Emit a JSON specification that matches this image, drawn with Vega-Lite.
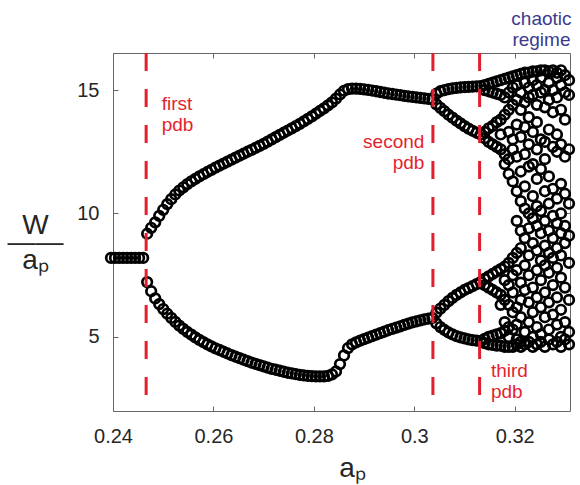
{
"$schema": "https://vega.github.io/schema/vega-lite/v6.json",
"width": 457, "height": 358,
"autosize": "none",
"padding": {"left": 113, "top": 53, "right": 10, "bottom": 74},
"background": "white",
"config": {"view": {"stroke": null}, "font": "Liberation Sans"},
"datasets": {
"pts": [
{"a":0.2396,"w":8.2},{"a":0.2404,"w":8.2},{"a":0.2412,"w":8.2},{"a":0.2420,"w":8.2},{"a":0.2428,"w":8.2},{"a":0.2436,"w":8.2},{"a":0.2444,"w":8.2},{"a":0.2452,"w":8.2},{"a":0.2460,"w":8.2},
{"a":0.2468,"w":9.18},{"a":0.2468,"w":7.22},{"a":0.2476,"w":9.42},{"a":0.2476,"w":6.85},{"a":0.2484,"w":9.64},{"a":0.2484,"w":6.56},{"a":0.2492,"w":9.90},{"a":0.2492,"w":6.33},
{"a":0.2500,"w":10.15},{"a":0.2500,"w":6.13},{"a":0.2508,"w":10.38},{"a":0.2508,"w":5.94},{"a":0.2516,"w":10.58},{"a":0.2516,"w":5.77},{"a":0.2524,"w":10.77},{"a":0.2524,"w":5.61},
{"a":0.2532,"w":10.93},{"a":0.2532,"w":5.46},{"a":0.2540,"w":11.06},{"a":0.2540,"w":5.33},{"a":0.2548,"w":11.19},{"a":0.2548,"w":5.20},{"a":0.2556,"w":11.30},{"a":0.2556,"w":5.09},
{"a":0.2564,"w":11.40},{"a":0.2564,"w":4.98},{"a":0.2572,"w":11.50},{"a":0.2572,"w":4.88},{"a":0.2580,"w":11.59},{"a":0.2580,"w":4.79},{"a":0.2588,"w":11.68},{"a":0.2588,"w":4.70},
{"a":0.2596,"w":11.77},{"a":0.2596,"w":4.62},{"a":0.2604,"w":11.86},{"a":0.2604,"w":4.54},{"a":0.2612,"w":11.94},{"a":0.2612,"w":4.47},{"a":0.2620,"w":12.02},{"a":0.2620,"w":4.40},
{"a":0.2628,"w":12.10},{"a":0.2628,"w":4.33},{"a":0.2636,"w":12.18},{"a":0.2636,"w":4.26},{"a":0.2644,"w":12.26},{"a":0.2644,"w":4.20},{"a":0.2652,"w":12.34},{"a":0.2652,"w":4.14},
{"a":0.2660,"w":12.42},{"a":0.2660,"w":4.08},{"a":0.2668,"w":12.50},{"a":0.2668,"w":4.02},{"a":0.2676,"w":12.58},{"a":0.2676,"w":3.96},{"a":0.2684,"w":12.66},{"a":0.2684,"w":3.91},
{"a":0.2692,"w":12.74},{"a":0.2692,"w":3.86},{"a":0.2700,"w":12.82},{"a":0.2700,"w":3.81},{"a":0.2708,"w":12.91},{"a":0.2708,"w":3.76},{"a":0.2716,"w":13.00},{"a":0.2716,"w":3.71},
{"a":0.2724,"w":13.09},{"a":0.2724,"w":3.67},{"a":0.2732,"w":13.18},{"a":0.2732,"w":3.63},{"a":0.2740,"w":13.27},{"a":0.2740,"w":3.59},{"a":0.2748,"w":13.36},{"a":0.2748,"w":3.55},
{"a":0.2756,"w":13.45},{"a":0.2756,"w":3.52},{"a":0.2764,"w":13.54},{"a":0.2764,"w":3.49},{"a":0.2772,"w":13.63},{"a":0.2772,"w":3.46},{"a":0.2780,"w":13.73},{"a":0.2780,"w":3.44},
{"a":0.2788,"w":13.83},{"a":0.2788,"w":3.42},{"a":0.2796,"w":13.93},{"a":0.2796,"w":3.41},{"a":0.2804,"w":14.04},{"a":0.2804,"w":3.40},{"a":0.2812,"w":14.15},{"a":0.2812,"w":3.40},
{"a":0.2820,"w":14.26},{"a":0.2820,"w":3.40},{"a":0.2828,"w":14.38},{"a":0.2828,"w":3.42},{"a":0.2836,"w":14.50},{"a":0.2836,"w":3.48},{"a":0.2844,"w":14.65},{"a":0.2844,"w":3.60},
{"a":0.2852,"w":14.82},{"a":0.2852,"w":3.90},{"a":0.2860,"w":14.97},{"a":0.2860,"w":4.25},{"a":0.2868,"w":15.04},{"a":0.2868,"w":4.55},{"a":0.2876,"w":15.06},{"a":0.2876,"w":4.70},
{"a":0.2884,"w":15.06},{"a":0.2884,"w":4.78},{"a":0.2892,"w":15.05},{"a":0.2892,"w":4.85},{"a":0.2900,"w":15.03},{"a":0.2900,"w":4.91},{"a":0.2908,"w":15.01},{"a":0.2908,"w":4.97},
{"a":0.2916,"w":14.98},{"a":0.2916,"w":5.03},{"a":0.2924,"w":14.95},{"a":0.2924,"w":5.09},{"a":0.2932,"w":14.92},{"a":0.2932,"w":5.15},{"a":0.2940,"w":14.89},{"a":0.2940,"w":5.21},
{"a":0.2948,"w":14.86},{"a":0.2948,"w":5.27},{"a":0.2956,"w":14.84},{"a":0.2956,"w":5.33},{"a":0.2964,"w":14.81},{"a":0.2964,"w":5.38},{"a":0.2972,"w":14.79},{"a":0.2972,"w":5.43},
{"a":0.2980,"w":14.76},{"a":0.2980,"w":5.49},{"a":0.2988,"w":14.74},{"a":0.2988,"w":5.54},{"a":0.2996,"w":14.72},{"a":0.2996,"w":5.59},{"a":0.3004,"w":14.70},{"a":0.3004,"w":5.63},
{"a":0.3012,"w":14.68},{"a":0.3012,"w":5.67},{"a":0.3020,"w":14.66},{"a":0.3020,"w":5.71},{"a":0.3028,"w":14.64},{"a":0.3028,"w":5.74},{"a":0.3036,"w":14.62},{"a":0.3036,"w":5.77},
{"a":0.3044,"w":14.85},{"a":0.3044,"w":14.42},{"a":0.3044,"w":5.98},{"a":0.3044,"w":5.55},
{"a":0.3052,"w":14.95},{"a":0.3052,"w":14.28},{"a":0.3052,"w":6.15},{"a":0.3052,"w":5.40},
{"a":0.3060,"w":15.00},{"a":0.3060,"w":14.14},{"a":0.3060,"w":6.30},{"a":0.3060,"w":5.28},
{"a":0.3068,"w":15.04},{"a":0.3068,"w":14.00},{"a":0.3068,"w":6.45},{"a":0.3068,"w":5.18},
{"a":0.3076,"w":15.07},{"a":0.3076,"w":13.88},{"a":0.3076,"w":6.58},{"a":0.3076,"w":5.10},
{"a":0.3084,"w":15.09},{"a":0.3084,"w":13.76},{"a":0.3084,"w":6.70},{"a":0.3084,"w":5.03},
{"a":0.3092,"w":15.11},{"a":0.3092,"w":13.65},{"a":0.3092,"w":6.80},{"a":0.3092,"w":4.98},
{"a":0.3100,"w":15.12},{"a":0.3100,"w":13.54},{"a":0.3100,"w":6.90},{"a":0.3100,"w":4.94},
{"a":0.3108,"w":15.13},{"a":0.3108,"w":13.44},{"a":0.3108,"w":6.98},{"a":0.3108,"w":4.90},
{"a":0.3116,"w":15.14},{"a":0.3116,"w":13.35},{"a":0.3116,"w":7.06},{"a":0.3116,"w":4.87},
{"a":0.3124,"w":15.15},{"a":0.3124,"w":13.27},{"a":0.3124,"w":7.14},{"a":0.3124,"w":4.85},
{"a":0.3132,"w":15.16},{"a":0.3132,"w":13.20},{"a":0.3132,"w":7.22},{"a":0.3132,"w":4.83},
{"a":0.3140,"w":15.2},{"a":0.3140,"w":15.0},{"a":0.3140,"w":13.3},{"a":0.3140,"w":13.05},{"a":0.3140,"w":7.35},{"a":0.3140,"w":7.1},{"a":0.3140,"w":4.92},{"a":0.3140,"w":4.75},
{"a":0.3148,"w":15.25},{"a":0.3148,"w":14.95},{"a":0.3148,"w":13.45},{"a":0.3148,"w":12.9},{"a":0.3148,"w":7.45},{"a":0.3148,"w":7.0},{"a":0.3148,"w":5.0},{"a":0.3148,"w":4.7},
{"a":0.3156,"w":15.3},{"a":0.3156,"w":14.9},{"a":0.3156,"w":13.55},{"a":0.3156,"w":12.8},{"a":0.3156,"w":7.55},{"a":0.3156,"w":6.9},{"a":0.3156,"w":5.05},{"a":0.3156,"w":4.68},
{"a":0.3164,"w":15.35},{"a":0.3164,"w":14.85},{"a":0.3164,"w":13.7},{"a":0.3164,"w":12.7},{"a":0.3164,"w":7.65},{"a":0.3164,"w":6.8},{"a":0.3164,"w":5.1},{"a":0.3164,"w":4.65},
{"a":0.3172,"w":15.4},{"a":0.3172,"w":14.8},{"a":0.3172,"w":13.8},{"a":0.3172,"w":13.2},{"a":0.3172,"w":12.6},{"a":0.3172,"w":7.75},{"a":0.3172,"w":6.7},{"a":0.3172,"w":6.3},{"a":0.3172,"w":5.15},{"a":0.3172,"w":4.65},
{"a":0.3180,"w":15.45},{"a":0.3180,"w":14.7},{"a":0.3180,"w":14.0},{"a":0.3180,"w":12.4},{"a":0.3180,"w":12.0},{"a":0.3180,"w":7.85},{"a":0.3180,"w":7.3},{"a":0.3180,"w":6.5},{"a":0.3180,"w":5.6},{"a":0.3180,"w":5.25},{"a":0.3180,"w":4.6},
{"a":0.3188,"w":15.5},{"a":0.3188,"w":14.9},{"a":0.3188,"w":14.2},{"a":0.3188,"w":13.3},{"a":0.3188,"w":12.2},{"a":0.3188,"w":11.6},{"a":0.3188,"w":8.0},{"a":0.3188,"w":7.1},{"a":0.3188,"w":6.3},{"a":0.3188,"w":5.4},{"a":0.3188,"w":5.0},{"a":0.3188,"w":4.6},
{"a":0.3196,"w":15.55},{"a":0.3196,"w":15.1},{"a":0.3196,"w":14.4},{"a":0.3196,"w":13.0},{"a":0.3196,"w":12.6},{"a":0.3196,"w":11.3},{"a":0.3196,"w":8.2},{"a":0.3196,"w":7.5},{"a":0.3196,"w":6.8},{"a":0.3196,"w":6.0},{"a":0.3196,"w":5.3},{"a":0.3196,"w":4.6},
{"a":0.3204,"w":15.6},{"a":0.3204,"w":15.2},{"a":0.3204,"w":14.6},{"a":0.3204,"w":13.6},{"a":0.3204,"w":12.3},{"a":0.3204,"w":10.9},{"a":0.3204,"w":9.7},{"a":0.3204,"w":8.4},{"a":0.3204,"w":7.7},{"a":0.3204,"w":6.2},{"a":0.3204,"w":5.5},{"a":0.3204,"w":4.9},{"a":0.3204,"w":4.7},
{"a":0.3212,"w":15.65},{"a":0.3212,"w":14.9},{"a":0.3212,"w":14.2},{"a":0.3212,"w":13.1},{"a":0.3212,"w":11.7},{"a":0.3212,"w":10.5},{"a":0.3212,"w":9.3},{"a":0.3212,"w":8.6},{"a":0.3212,"w":7.2},{"a":0.3212,"w":6.5},{"a":0.3212,"w":5.8},{"a":0.3212,"w":4.8},{"a":0.3212,"w":4.6},
{"a":0.3220,"w":15.7},{"a":0.3220,"w":15.3},{"a":0.3220,"w":14.5},{"a":0.3220,"w":13.5},{"a":0.3220,"w":12.4},{"a":0.3220,"w":11.1},{"a":0.3220,"w":10.2},{"a":0.3220,"w":9.0},{"a":0.3220,"w":7.9},{"a":0.3220,"w":6.9},{"a":0.3220,"w":5.2},{"a":0.3220,"w":4.7},
{"a":0.3228,"w":15.7},{"a":0.3228,"w":15.1},{"a":0.3228,"w":14.7},{"a":0.3228,"w":13.9},{"a":0.3228,"w":12.8},{"a":0.3228,"w":11.9},{"a":0.3228,"w":10.0},{"a":0.3228,"w":9.4},{"a":0.3228,"w":8.3},{"a":0.3228,"w":7.5},{"a":0.3228,"w":6.4},{"a":0.3228,"w":5.6},{"a":0.3228,"w":4.8},
{"a":0.3236,"w":15.75},{"a":0.3236,"w":15.4},{"a":0.3236,"w":14.8},{"a":0.3236,"w":13.3},{"a":0.3236,"w":12.0},{"a":0.3236,"w":10.7},{"a":0.3236,"w":9.8},{"a":0.3236,"w":8.8},{"a":0.3236,"w":7.0},{"a":0.3236,"w":6.0},{"a":0.3236,"w":5.0},{"a":0.3236,"w":4.6},
{"a":0.3244,"w":15.75},{"a":0.3244,"w":15.2},{"a":0.3244,"w":14.4},{"a":0.3244,"w":13.7},{"a":0.3244,"w":12.6},{"a":0.3244,"w":11.4},{"a":0.3244,"w":10.3},{"a":0.3244,"w":9.5},{"a":0.3244,"w":8.5},{"a":0.3244,"w":7.7},{"a":0.3244,"w":6.6},{"a":0.3244,"w":5.4},{"a":0.3244,"w":4.7},
{"a":0.3252,"w":15.8},{"a":0.3252,"w":15.5},{"a":0.3252,"w":14.9},{"a":0.3252,"w":13.0},{"a":0.3252,"w":11.8},{"a":0.3252,"w":10.1},{"a":0.3252,"w":9.2},{"a":0.3252,"w":8.1},{"a":0.3252,"w":7.3},{"a":0.3252,"w":6.2},{"a":0.3252,"w":5.1},{"a":0.3252,"w":4.8},
{"a":0.3260,"w":15.8},{"a":0.3260,"w":15.0},{"a":0.3260,"w":14.3},{"a":0.3260,"w":12.9},{"a":0.3260,"w":12.2},{"a":0.3260,"w":10.9},{"a":0.3260,"w":9.7},{"a":0.3260,"w":8.7},{"a":0.3260,"w":7.9},{"a":0.3260,"w":6.8},{"a":0.3260,"w":5.8},{"a":0.3260,"w":4.6},
{"a":0.3268,"w":15.75},{"a":0.3268,"w":15.3},{"a":0.3268,"w":14.6},{"a":0.3268,"w":13.4},{"a":0.3268,"w":11.5},{"a":0.3268,"w":10.4},{"a":0.3268,"w":9.3},{"a":0.3268,"w":8.4},{"a":0.3268,"w":7.6},{"a":0.3268,"w":6.4},{"a":0.3268,"w":5.3},{"a":0.3268,"w":4.9},
{"a":0.3276,"w":15.8},{"a":0.3276,"w":15.0},{"a":0.3276,"w":14.1},{"a":0.3276,"w":12.7},{"a":0.3276,"w":11.0},{"a":0.3276,"w":9.9},{"a":0.3276,"w":9.0},{"a":0.3276,"w":8.2},{"a":0.3276,"w":7.1},{"a":0.3276,"w":5.9},{"a":0.3276,"w":4.7},
{"a":0.3284,"w":15.7},{"a":0.3284,"w":15.5},{"a":0.3284,"w":14.7},{"a":0.3284,"w":13.2},{"a":0.3284,"w":12.5},{"a":0.3284,"w":10.6},{"a":0.3284,"w":9.6},{"a":0.3284,"w":8.6},{"a":0.3284,"w":7.8},{"a":0.3284,"w":6.6},{"a":0.3284,"w":5.5},{"a":0.3284,"w":4.8},
{"a":0.3292,"w":15.8},{"a":0.3292,"w":15.2},{"a":0.3292,"w":14.2},{"a":0.3292,"w":12.8},{"a":0.3292,"w":11.2},{"a":0.3292,"w":10.0},{"a":0.3292,"w":9.2},{"a":0.3292,"w":8.3},{"a":0.3292,"w":7.4},{"a":0.3292,"w":6.1},{"a":0.3292,"w":5.0},{"a":0.3292,"w":4.6},
{"a":0.3300,"w":15.6},{"a":0.3300,"w":14.9},{"a":0.3300,"w":13.8},{"a":0.3300,"w":12.3},{"a":0.3300,"w":10.8},{"a":0.3300,"w":9.5},{"a":0.3300,"w":8.8},{"a":0.3300,"w":7.0},{"a":0.3300,"w":5.6},{"a":0.3300,"w":4.9},
{"a":0.3308,"w":15.4},{"a":0.3308,"w":14.8},{"a":0.3308,"w":12.6},{"a":0.3308,"w":10.4},{"a":0.3308,"w":9.1},{"a":0.3308,"w":8.0},{"a":0.3308,"w":6.5},{"a":0.3308,"w":5.2},{"a":0.3308,"w":4.7}
],
"pdb": [{"a":0.2466},{"a":0.3037},{"a":0.3130}],
"redLeft": [{"a":0.2497,"w":14.19,"t":"first\npdb"},{"a":0.31526,"w":3.39,"t":"third\npdb"}],
"redRight": [{"a":0.3020,"w":12.65,"t":"second\npdb"}],
"blue": [{"a":0.32531,"w":17.63,"t":"chaotic\nregime"}]
},
"layer": [
{"data": {"name": "pts"},
 "mark": {"type": "point", "shape": "circle", "filled": false, "stroke": "black", "strokeWidth": 2.7, "size": 92, "opacity": 1, "clip": false},
 "encoding": {
  "x": {"field": "a", "type": "quantitative", "scale": {"domain": [0.24, 0.331], "nice": false, "zero": false},
   "axis": {"orient": "bottom", "values": [0.24, 0.26, 0.28, 0.3, 0.32], "format": "~g", "grid": false,
    "domainColor": "#666", "tickColor": "#666", "tickSize": -5, "labelPadding": 20, "labelFontSize": 20, "labelColor": "#262626", "labelFont": "Liberation Sans",
    "title": "aₚ", "titleFont": "Liberation Sans", "titleFontSize": 28, "titleFontWeight": "normal", "titleColor": "#262626",
    "titleX": 239, "titleY": 65, "titleAlign": "center", "titleBaseline": "alphabetic", "labelFlush": false}},
  "y": {"field": "w", "type": "quantitative", "scale": {"domain": [2, 16.5], "nice": false, "zero": false},
   "axis": {"orient": "left", "values": [5, 10, 15], "grid": false,
    "domainColor": "#666", "tickColor": "#666", "tickSize": -5, "labelPadding": 19, "labelFontSize": 20, "labelColor": "#262626", "labelFont": "Liberation Sans",
    "title": ["W", "——", "aₚ"], "titleFont": "Liberation Sans", "titleFontSize": 28, "titleFontWeight": "normal", "titleColor": "#262626",
    "titleAngle": 0, "titleX": -78, "titleY": 180, "titleAlign": "center", "titleBaseline": "alphabetic", "titleLineHeight": 17.5}}
 }},
{"data": {"name": "pdb"},
 "mark": {"type": "rule", "color": "#e41f2d", "strokeWidth": 3, "strokeDash": [18, 18]},
 "encoding": {
  "x": {"field": "a", "type": "quantitative", "scale": {"domain": [0.24, 0.331], "nice": false, "zero": false},
   "axis": {"orient": "top", "values": [0.24, 0.26, 0.28, 0.3, 0.32], "labels": false, "title": null, "grid": false, "domainColor": "#666", "tickColor": "#666", "tickSize": -5}},
  "y": {"datum": 16.5, "type": "quantitative", "scale": {"domain": [2, 16.5], "nice": false, "zero": false},
   "axis": {"orient": "right", "values": [5, 10, 15], "labels": false, "title": null, "grid": false, "domainColor": "#666", "tickColor": "#666", "tickSize": -5}},
  "y2": {"datum": 2}
 }},
{"data": {"name": "redLeft"},
 "mark": {"type": "text", "align": "left", "baseline": "alphabetic", "lineBreak": "\n", "lineHeight": 21, "fontSize": 19, "font": "Liberation Sans", "color": "#e41f2d", "clip": false},
 "encoding": {
  "x": {"field": "a", "type": "quantitative", "scale": {"domain": [0.24, 0.331], "nice": false, "zero": false}, "axis": null},
  "y": {"field": "w", "type": "quantitative", "scale": {"domain": [2, 16.5], "nice": false, "zero": false}, "axis": null},
  "text": {"field": "t"}
 }},
{"data": {"name": "redRight"},
 "mark": {"type": "text", "align": "right", "baseline": "alphabetic", "lineBreak": "\n", "lineHeight": 21, "fontSize": 19, "font": "Liberation Sans", "color": "#e41f2d", "clip": false},
 "encoding": {
  "x": {"field": "a", "type": "quantitative", "scale": {"domain": [0.24, 0.331], "nice": false, "zero": false}, "axis": null},
  "y": {"field": "w", "type": "quantitative", "scale": {"domain": [2, 16.5], "nice": false, "zero": false}, "axis": null},
  "text": {"field": "t"}
 }},
{"data": {"name": "blue"},
 "mark": {"type": "text", "align": "center", "baseline": "alphabetic", "lineBreak": "\n", "lineHeight": 21, "fontSize": 19, "font": "Liberation Sans", "color": "#3b3a8f", "clip": false},
 "encoding": {
  "x": {"field": "a", "type": "quantitative", "scale": {"domain": [0.24, 0.331], "nice": false, "zero": false}, "axis": null},
  "y": {"field": "w", "type": "quantitative", "scale": {"domain": [2, 16.5], "nice": false, "zero": false}, "axis": null},
  "text": {"field": "t"}
 }}
],
"resolve": {"axis": {"x": "independent", "y": "independent"}}
}
